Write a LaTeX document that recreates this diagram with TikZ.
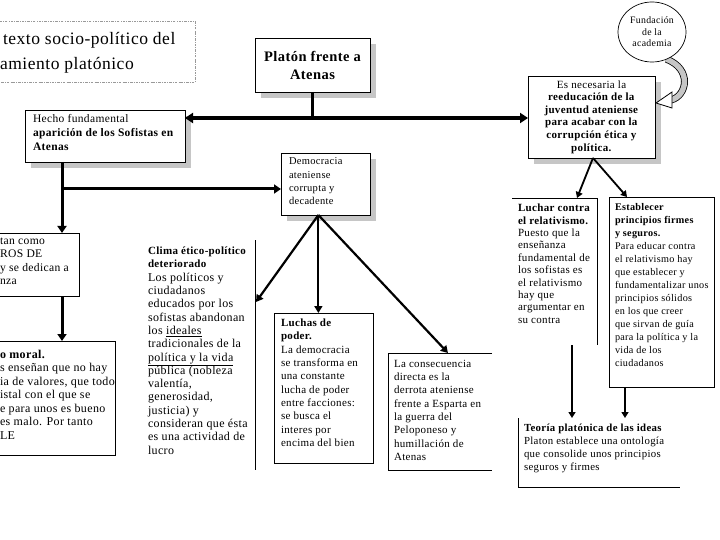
\documentclass[tikz,border=0pt]{standalone}
\usepackage{fontspec}
\setmainfont{Liberation Serif}[LetterSpace=3]
\usetikzlibrary{arrows.meta,shadows,shapes.geometric,calc}
\pgfdeclarelayer{bg}
\pgfsetlayers{bg,main}
\begin{document}
\begin{tikzpicture}[x=1pt,y=-1pt,
  every node/.style={inner sep=0pt,outer sep=0pt},
  boxbase/.style={anchor=north west,line width=0.9pt},
  fullbox/.style={boxbase,draw,fill=white},
  shbox/.style={fullbox,drop shadow={shadow xshift=6pt,shadow yshift=-6pt,fill=gray!45,opacity=1}},
  openbox/.style={boxbase},
  edgeline/.style={line width=0.9pt},
  txt/.style={anchor=north west,align=left,font=\fontsize{11}{13.3}\selectfont},
  smalltxt/.style={anchor=north west,align=left,font=\fontsize{10.5}{12.4}\selectfont},
  bigline/.style={line width=3.5pt},
  bigarrow/.style={bigline,-{Triangle[length=8pt,width=10pt]}},
  hline/.style={line width=3pt},
  harrow/.style={hline,-{Triangle[length=7pt,width=9pt]}},
  midarrow/.style={line width=2.2pt,-{Triangle[length=7pt,width=8pt]}},
  thinarrow/.style={line width=1.8pt,-{Triangle[length=6pt,width=7pt]}},
]
\useasboundingbox (0,0) rectangle (720,540);
\begin{pgfonlayer}{bg}
\fill[white] (0,0) rectangle (720,540);
\end{pgfonlayer}

% title
\node[anchor=north west,draw=gray!80,line width=0.7pt,dash pattern=on 2.5pt off 1.2pt on 0.7pt off 1.2pt,minimum width=205pt,minimum height=61pt] (titlebox) at (-10,21) {};
\node[anchor=base west,font=\fontsize{17.5}{22}\selectfont] (title1) at (3,45) {texto socio-político del};
\node[anchor=base west,font=\fontsize{17.5}{22}\selectfont] (title2) at (0,70) {amiento platónico};

% Platon
\node[shbox,minimum width=115pt,minimum height=54pt] (platon) at (255,38) {};
\node[font=\bfseries\fontsize{14.5}{18}\selectfont,align=center] (platonT) at (platon.center) {Platón frente a\\Atenas};

% necesaria
\node[shbox,minimum width=127pt,minimum height=82pt] (nec) at (528,76) {};
\node[font=\fontsize{11}{12.6}\selectfont,align=center] (necT) at (nec.center) {Es necesaria la\\\textbf{reeducación de la}\\\textbf{juventud ateniense}\\\textbf{para acabar con la}\\\textbf{corrupción ética y}\\\textbf{política.}};

% academia
\node[draw,ellipse,line width=0.7pt,minimum width=68pt,minimum height=60pt,fill=white,font=\fontsize{9.8}{11.5}\selectfont,align=center] (acad) at (652,32) {Fundación\\de la\\academia};
\coordinate (curvEnd) at (671,100);
\begin{pgfonlayer}{bg}
\draw[line width=7pt] (acad.-62) .. controls +(26,10) and +(16,-4) .. (curvEnd);
\draw[line width=5.4pt,gray!45] (acad.-62) .. controls +(26,10) and +(16,-4) .. (curvEnd);
\end{pgfonlayer}
\filldraw[fill=white,line width=0.8pt] ($(curvEnd)+(-15,3)$) -- ($(curvEnd)+(1,-8)$) -- ($(curvEnd)+(1,8)$) -- cycle;

% Hecho
\node[shbox,minimum width=160pt,minimum height=52pt] (hecho) at (25,110) {};
\node[txt,font=\fontsize{11.5}{14}\selectfont] (hechoT) at (33,114) {Hecho fundamental\\\textbf{aparición de los Sofistas en}\\\textbf{Atenas}};

% Democracia
\node[shbox,minimum width=89pt,minimum height=62pt] (demo) at (281,153) {};
\node[txt,font=\fontsize{10.5}{13.2}\selectfont] (demoT) at (289,158) {Democracia\\ateniense\\corrupta y\\decadente};

% main connectors
\coordinate (hub) at ($(platon.south)+(0,26)$);
\draw[bigline] (platon.south) -- (hub);
\draw[bigarrow] (hub) -- (hecho.east |- hub);
\draw[bigarrow] (hub) -- (nec.west |- hub);

% left column
\node[fullbox,minimum width=84pt,minimum height=63pt] (tan) at (-5,233) {};
\node[txt,font=\fontsize{11.6}{13.3}\selectfont] (tanT) at (0,238) {tan como\\ROS DE\\y se dedican a\\nza};
\node[fullbox,minimum width=120pt,minimum height=114pt] (moral) at (-5,341) {};
\node[txt,font=\fontsize{12}{13.5}\selectfont] (moralT) at (0,350) {\textbf{o moral.}\\s enseñan que no hay\\ia de valores, que todo\\istal con el que se\\e para unos es bueno\\es malo. Por tanto\\LE};

\coordinate (hOut) at ($(hecho.south west)+(37,0)$);
\coordinate (hBranch) at ($(hOut)+(0,27)$);
\draw[hline] (hOut) -- (hBranch);
\draw[harrow] (hBranch) -- (hOut |- tan.north);
\draw[harrow] (hBranch) -- (demo.west |- hBranch);
\draw[harrow] (hOut |- tan.south) -- (hOut |- moral.north);

% Clima
\node[openbox,minimum width=115pt,minimum height=230pt] (clima) at (140,240) {};
\draw[edgeline] (clima.north east) -- (clima.south east);
\node[txt,font=\fontsize{12}{13.3}\selectfont] (climaT) at (148,247) {{\fontsize{11}{13.3}\selectfont\textbf{Clima ético-político}}\\{\fontsize{11}{13.3}\selectfont\textbf{deteriorado}}\\Los políticos y\\ciudadanos\\educados por los\\sofistas abandonan\\los \underline{ideales}\\tradicionales de la\\\underline{política y la vida}\\pública (nobleza\\valentía,\\generosidad,\\justicia) y\\consideran que ésta\\es una actividad de\\lucro};

% Luchas
\node[fullbox,minimum width=99pt,minimum height=150pt] (luchas) at (274,313) {};
\node[txt] (luchasT) at (281,319) {\textbf{Luchas de}\\\textbf{poder.}\\La democracia\\se transforma en\\una constante\\lucha de poder\\entre facciones:\\se busca el\\interes por\\encima del bien};

% Consecuencia
\node[openbox,minimum width=104pt,minimum height=117pt] (cons) at (388,353) {};
\draw[edgeline] (cons.north east) -- (cons.north west) -- (cons.south west) -- (cons.south east);
\node[txt] (consT) at (394,360) {La consecuencia\\directa es la\\derrota ateniense\\frente a Esparta en\\la guerra del\\Peloponeso y\\humillación de\\Atenas};

\coordinate (dOut) at ($(demo.south west)!0.42!(demo.south east)$);
\coordinate (cIn) at ($(clima.north east)+(1,62)$);
\draw[midarrow] (dOut) -- (cIn);
\draw[midarrow] (dOut) -- (dOut |- luchas.north);
\draw[midarrow] (dOut) -- ($(cons.north west)+(60,0)$);

% right column
\node[openbox,minimum width=85pt,minimum height=147pt] (luchar) at (512,198) {};
\draw[edgeline] (luchar.north west) -- (luchar.north east) -- (luchar.south east);
\node[smalltxt,font=\fontsize{11}{12.4}\selectfont] (lucharT) at (518,204) {\textbf{Luchar contra}\\\textbf{el relativismo.}\\Puesto que la\\enseñanza\\fundamental de\\los sofistas es\\el relativismo\\hay que\\argumentar en\\su contra};

\node[fullbox,minimum width=105pt,minimum height=190pt] (estab) at (609,197) {};
\node[smalltxt,font=\fontsize{10.2}{13}\selectfont] (estabT) at (615,203) {\textbf{Establecer}\\\textbf{principios firmes}\\\textbf{y seguros.}\\Para educar contra\\el relativismo hay\\que establecer y\\fundamentalizar unos\\principios sólidos\\en los que creer\\que sirvan de guía\\para la política y la\\vida de los\\ciudadanos};

\node[openbox,minimum width=162pt,minimum height=69pt] (teoria) at (518,418) {};
\draw[edgeline] (teoria.north west) -- (teoria.south west) -- (teoria.south east);
\node[txt,font=\fontsize{10.8}{13}\selectfont] (teoriaT) at (524,424) {\textbf{Teoría platónica de las ideas}\\Platon establece una ontología\\que consolide unos principios\\seguros y firmes};

\coordinate (nOut) at ($(nec.south west)+(65,0)$);
\draw[thinarrow] (nOut) -- ($(luchar.north west)+(65,0)$);
\draw[thinarrow] (nOut) -- ($(estab.north west)+(18,0)$);
\coordinate (lOut) at ($(luchar.south west)+(60,0)$);
\coordinate (eOut) at ($(estab.south west)+(16,0)$);
\draw[thinarrow] (lOut) -- (lOut |- teoria.north);
\draw[thinarrow] (eOut) -- (eOut |- teoria.north);
\end{tikzpicture}
\end{document}
